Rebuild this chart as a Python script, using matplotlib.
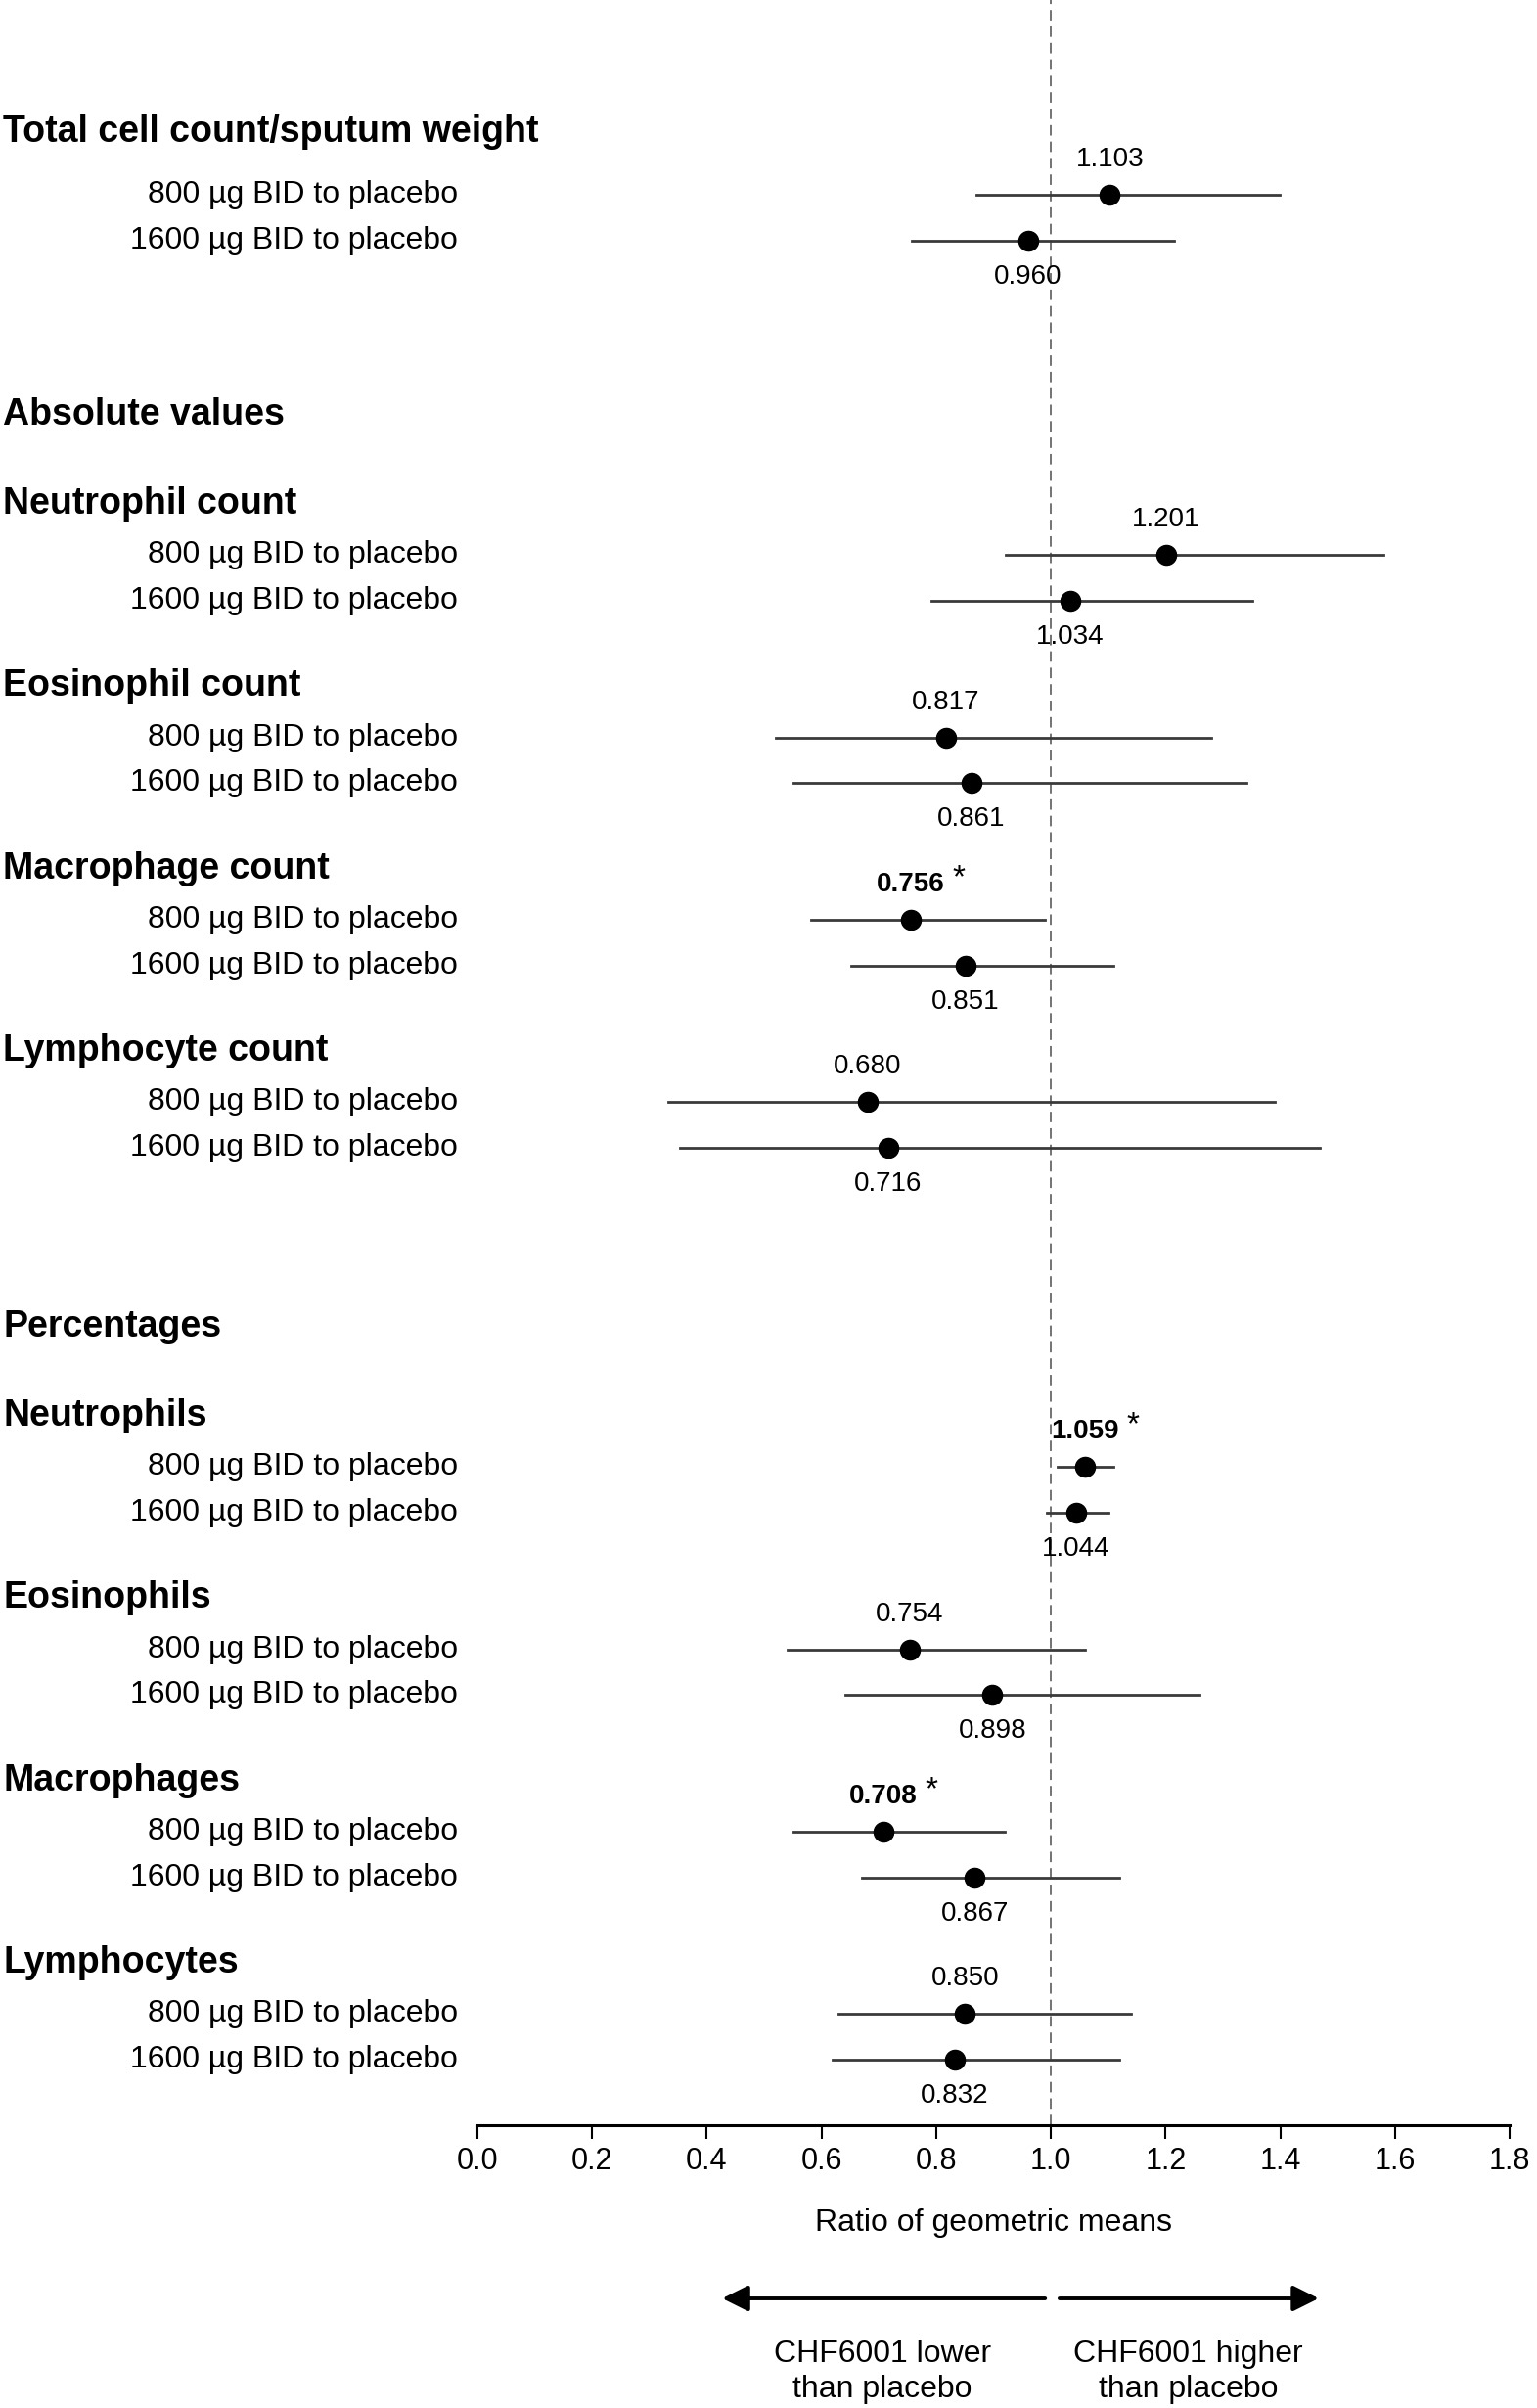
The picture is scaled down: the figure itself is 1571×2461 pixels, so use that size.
import matplotlib
matplotlib.use('Agg')
import matplotlib.pyplot as plt
import matplotlib.transforms as mtrans

plt.rcParams['font.family'] = ['Liberation Sans', 'DejaVu Sans']

groups = ['Total cell count/sputum weight', 'Neutrophil count', 'Eosinophil count',
          'Macrophage count', 'Lymphocyte count', 'Neutrophils', 'Eosinophils',
          'Macrophages', 'Lymphocytes']
sections = [None, 'Absolute values', None, None, None, 'Percentages', None, None, None]
row_labels = ['800 µg BID to placebo', '1600 µg BID to placebo']

ratio_800 = [1.103, 1.201, 0.817, 0.756, 0.680, 1.059, 0.754, 0.708, 0.850]
lo_800 = [0.870, 0.921, 0.520, 0.582, 0.333, 1.012, 0.541, 0.551, 0.630]
hi_800 = [1.399, 1.580, 1.280, 0.990, 1.391, 1.109, 1.060, 0.920, 1.140]
sig_800 = [False, False, False, True, False, True, False, True, False]

ratio_1600 = [0.960, 1.034, 0.861, 0.851, 0.716, 1.044, 0.898, 0.867, 0.832]
lo_1600 = [0.758, 0.792, 0.551, 0.652, 0.353, 0.993, 0.642, 0.671, 0.619]
hi_1600 = [1.215, 1.351, 1.341, 1.109, 1.469, 1.100, 1.259, 1.119, 1.119]

W, H = 1571, 2461
fig = plt.figure(figsize=(W / 100, H / 100), dpi=100)
ax = fig.add_axes([488 / W, 1 - 2172 / H, 1055 / W, 2172 / H])
ax.set_xlim(0, 1.8)
ax.set_ylim(2172 / 46.6 - 0.17, -0.17)

# left-side labels: x in figure fraction, y in data
lab_tr = mtrans.blended_transform_factory(fig.transFigure, ax.transData)

# layout: cursor in row slots
ys = []
cur = 4
for i, g in enumerate(groups):
    if i > 0:
        cur += 8 if sections[i] else 4
    ys.append(cur + (0.1 if i == 0 else 0))

ax.axvline(1.0, color='#4d4d4d', lw=1.1, ls=(0, (7, 4)), zorder=1)

for i, g in enumerate(groups):
    y1 = ys[i]
    y2 = y1 + 1
    if sections[i]:
        ax.text(0.002, y1 - 3.08, sections[i], transform=lab_tr, ha='left', va='center',
                fontsize=27, fontweight='bold')
    ax.text(0.002, y1 - (1.37 if i == 0 else 1.12), g, transform=lab_tr, ha='left',
            va='center', fontsize=27, fontweight='bold')
    for y, lab in zip([y1, y2], row_labels):
        ax.text(0.298, y, lab, transform=lab_tr, ha='right', va='center', fontsize=23)

    ax.plot([lo_800[i], hi_800[i]], [y1, y1], color='#3a3a3a', lw=2.0, zorder=2)
    ax.plot([lo_1600[i], hi_1600[i]], [y2, y2], color='#3a3a3a', lw=2.0, zorder=2)
    ax.plot([ratio_800[i], ratio_1600[i]], [y1, y2], 'o', color='black', ms=14.5, ls='none', zorder=3)

    ax.annotate('%.3f' % ratio_800[i], (ratio_800[i], y1), xytext=(0, 36),
                textcoords='offset pixels', ha='center', va='center', fontsize=20,
                fontweight='bold' if sig_800[i] else 'normal')
    if sig_800[i]:
        ax.annotate('*', (ratio_800[i], y1), xytext=(49, 42),
                    textcoords='offset pixels', ha='center', va='center', fontsize=24)
    ax.annotate('%.3f' % ratio_1600[i], (ratio_1600[i], y2), xytext=(0, -37),
                textcoords='offset pixels', ha='center', va='center', fontsize=20)

for s in ['left', 'right', 'top']:
    ax.spines[s].set_visible(False)
ax.spines['bottom'].set_linewidth(2.2)
ax.set_yticks([])
ax.set_xticks([0.0, 0.2, 0.4, 0.6, 0.8, 1.0, 1.2, 1.4, 1.6, 1.8])
ax.set_xticklabels(['0.0', '0.2', '0.4', '0.6', '0.8', '1.0', '1.2', '1.4', '1.6', '1.8'])
ax.tick_params(axis='x', length=10, width=1.5, labelsize=22, pad=6)

fig.text((488 + 1543) / 2 / W, 1 - 2272 / H, 'Ratio of geometric means',
         ha='center', va='center', fontsize=23)

arr_tr = mtrans.blended_transform_factory(ax.transData, fig.transFigure)
ya = 1 - 2349 / H
ax.annotate('', xy=(0.427, ya), xytext=(0.990, ya), xycoords=arr_tr, textcoords=arr_tr,
            arrowprops=dict(arrowstyle='-|>', lw=2.8, color='black', mutation_scale=40,
                            shrinkA=0, shrinkB=0), annotation_clip=False)
ax.annotate('', xy=(1.467, ya), xytext=(1.015, ya), xycoords=arr_tr, textcoords=arr_tr,
            arrowprops=dict(arrowstyle='-|>', lw=2.8, color='black', mutation_scale=40,
                            shrinkA=0, shrinkB=0), annotation_clip=False)
ax.text(0.706, 1 - 2424 / H, 'CHF6001 lower\nthan placebo', transform=arr_tr,
        ha='center', va='center', fontsize=23, linespacing=1.25)
ax.text(1.240, 1 - 2424 / H, 'CHF6001 higher\nthan placebo', transform=arr_tr,
        ha='center', va='center', fontsize=23, linespacing=1.25)

fig.savefig('out.png', dpi=100)
